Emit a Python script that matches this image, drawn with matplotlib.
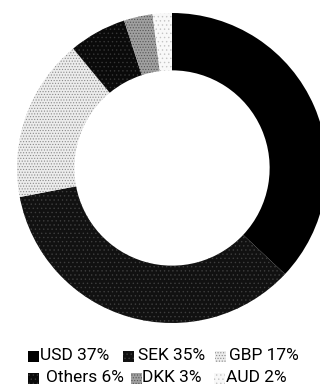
import matplotlib
matplotlib.use("Agg")
import matplotlib.pyplot as plt
from matplotlib.patches import Rectangle

currencies = ["USD", "SEK", "GBP", "Others", "DKK", "AUD"]
shares = [37, 35, 17, 6, 3, 2]
face_colors = ["#000000", "#111111", "#ececec", "#0a0a0a", "#a0a0a0", "#f8f8f8"]
dot_colors = ["#000000", "#3e3e3e", "#8a8a8a", "#363636", "#555555", "#c4c4c4"]
hatches = ["", "....", "......", "....", "......", "...."]

plt.rcParams["hatch.linewidth"] = 0.5

W, H = 320, 387
fig = plt.figure(figsize=(W / 100, H / 100), dpi=100)
fig.patch.set_facecolor("white")

# donut axes: centre (172, 168) px, outer radius 155 px
cx, cy, r = 172, 168, 155
ax = fig.add_axes([(cx - r) / W, (H - cy - r) / H, 2 * r / W, 2 * r / H])
wedges, _ = ax.pie(shares, colors=face_colors, startangle=90, counterclock=False,
                   radius=1.0, wedgeprops=dict(width=0.37, linewidth=0))
for w, dc, ht in zip(wedges, dot_colors, hatches):
    w.set_edgecolor(dc)
    w.set_hatch(ht)
    w.set_linewidth(0)
ax.set_xlim(-1, 1)
ax.set_ylim(-1, 1)
ax.set_aspect("equal")
ax.axis("off")

font = ["Roboto", "DejaVu Sans"]
# legend rows: (square x, text x, row centre y) in px
layout = [(28, 40, 356), (123, 138, 356), (215, 229, 356),
          (28, 46, 378), (131, 142, 378), (214, 226, 378)]
for (sx, tx, ty), name, val, fc, dc, ht in zip(layout, currencies, shares,
                                              face_colors, dot_colors, hatches):
    sq = 11
    fig.patches.append(Rectangle((sx / W, (H - ty - sq / 2) / H), sq / W, sq / H,
                                 transform=fig.transFigure, facecolor=fc,
                                 edgecolor=dc, hatch=ht, linewidth=0))
    fig.text(tx / W, (H - ty) / H, f"{name} {val}%", fontsize=12.5,
             family=font, va="center", ha="left", color="#000000")

fig.savefig("out.png", dpi=100, facecolor="white")
